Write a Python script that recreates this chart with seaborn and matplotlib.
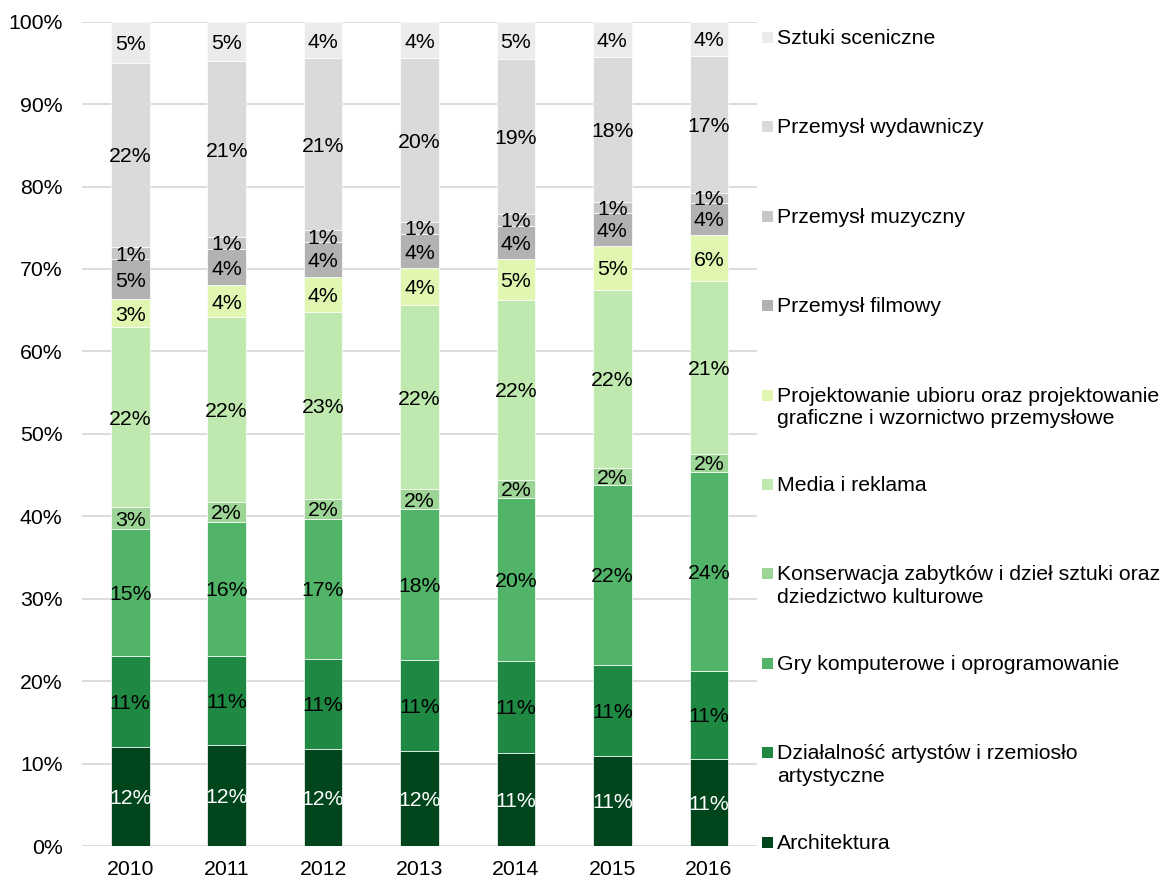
import matplotlib
matplotlib.use("Agg")
import matplotlib.pyplot as plt
import seaborn as sns
import numpy as np
import pandas as pd
from matplotlib.patches import Rectangle

# ---------------- data ----------------
years = ["2010", "2011", "2012", "2013", "2014", "2015", "2016"]

# stacking order: bottom -> top
categories = [
    "Architektura",
    "Działalność artystów i rzemiosło\nartystyczne",
    "Gry komputerowe i oprogramowanie",
    "Konserwacja zabytków i dzieł sztuki oraz\ndziedzictwo kulturowe",
    "Media i reklama",
    "Projektowanie ubioru oraz projektowanie\ngraficzne i wzornictwo przemysłowe",
    "Przemysł filmowy",
    "Przemysł muzyczny",
    "Przemysł wydawniczy",
    "Sztuki sceniczne",
]

architektura  = [12.05, 12.22, 11.77, 11.56, 11.32, 10.92, 10.59]
dzialalnosc   = [11.00, 10.87, 10.95, 11.00, 11.16, 11.08, 10.68]
gry           = [15.40, 16.25, 16.99, 18.32, 19.74, 21.80, 24.14]
konserwacja   = [2.67, 2.45, 2.42, 2.43, 2.18, 2.10, 2.19]
media         = [21.83, 22.39, 22.69, 22.32, 21.84, 21.60, 20.91]
projektowanie = [3.40, 3.84, 4.25, 4.45, 4.97, 5.30, 5.61]
filmowy       = [4.86, 4.41, 4.17, 4.17, 4.04, 4.00, 3.92]
muzyczny      = [1.45, 1.45, 1.49, 1.45, 1.46, 1.37, 1.22]
wydawniczy    = [22.36, 21.35, 20.82, 19.85, 18.74, 17.55, 16.58]
sceniczne     = [4.97, 4.77, 4.45, 4.45, 4.55, 4.28, 4.16]

series = [architektura, dzialalnosc, gry, konserwacja, media,
          projektowanie, filmowy, muzyczny, wydawniczy, sceniczne]

colors = ["#01451d", "#1f8843", "#52b468", "#9dd596", "#bfe9ae",
          "#e1f7b1", "#b2b2b2", "#c7c7c7", "#dadada", "#ebebeb"]
label_colors = ["white"] + ["black"] * 9

yticks = list(range(0, 101, 10))

# ---------------- style ----------------
sns.set_theme(style="white")
plt.rcParams["font.family"] = ["Liberation Sans", "DejaVu Sans"]

W, H = 1165, 880
FS = 15.3
fig = plt.figure(figsize=(W / 100, H / 100), dpi=100)
ax_left, ax_right, ax_top, ax_bottom = 82, 757, 21.7, 846
ax = fig.add_axes([ax_left / W, (H - ax_bottom) / H,
                   (ax_right - ax_left) / W, (ax_bottom - ax_top) / H])

bottom = np.zeros(len(years))
for name, vals, color, tcol in zip(categories, series, colors, label_colors):
    df = pd.DataFrame({"year": years, "value": vals})
    sns.barplot(data=df, x="year", y="value", color=color, saturation=1,
                width=0.4, bottom=bottom, ax=ax, edgecolor="white",
                linewidth=0.5, errorbar=None)
    for i, v in enumerate(vals):
        ax.text(i, bottom[i] + v / 2, f"{v:.0f}%", ha="center",
                va="center_baseline", color=tcol, fontsize=FS)
    bottom = bottom + np.array(vals)

ax.set_ylim(0, 100)
ax.set_xlim(-0.5, len(years) - 0.5)
ax.set_yticks(yticks)
ax.set_yticklabels([f"{t}%" for t in yticks])
ax.set_xlabel("")
ax.set_ylabel("")
ax.yaxis.grid(True, color="#d9d9d9", linewidth=1.3)
ax.xaxis.grid(False)
ax.set_axisbelow(True)
for s in ax.spines.values():
    s.set_visible(False)
ax.tick_params(axis="y", length=0, pad=14, labelsize=FS, labelcolor="black")
ax.tick_params(axis="x", length=0, pad=10, labelsize=FS, labelcolor="black")

# ---------------- legend (Excel style, right side) ----------------
first_y = 37.5
step = 89.4
for k, (name, color) in enumerate(zip(categories[::-1], colors[::-1])):
    yc = first_y + k * step
    fig.add_artist(Rectangle((762 / W, 1 - (yc + 5.5) / H), 11 / W, 11 / H,
                             transform=fig.transFigure, facecolor=color,
                             edgecolor="none"))
    fig.text(777 / W, 1 - (yc - 8.5) / H, name, ha="left", va="top",
             fontsize=FS, color="black", linespacing=1.25)

fig.savefig("out.png", dpi=100)
